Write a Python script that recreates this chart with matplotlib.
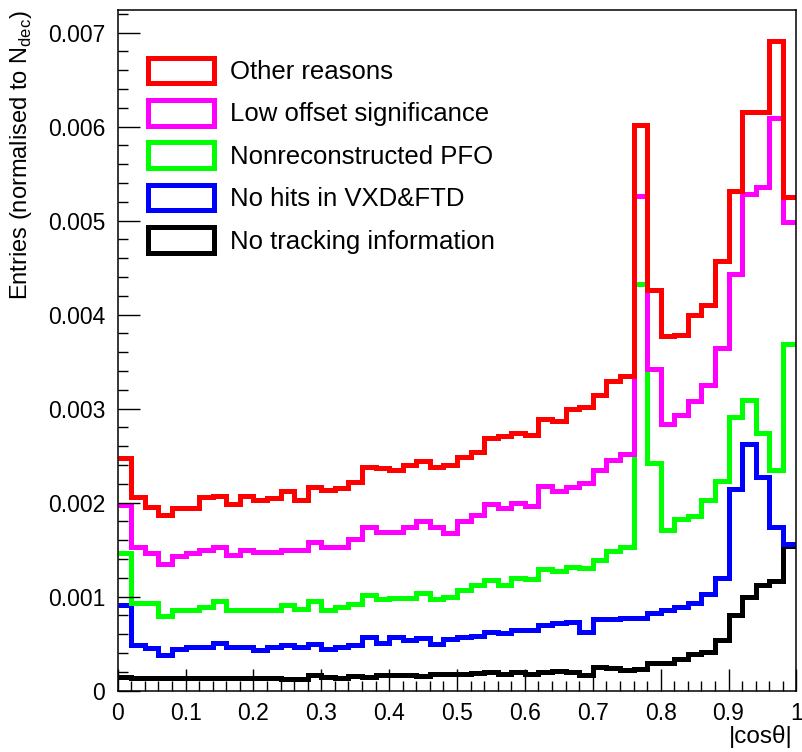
import numpy as np
import matplotlib
matplotlib.use('Agg')
import matplotlib.pyplot as plt
from matplotlib.patches import Rectangle
from matplotlib.ticker import MultipleLocator

plt.rcParams['font.family'] = ['Liberation Sans', 'DejaVu Sans']
plt.rcParams['mathtext.fontset'] = 'custom'
plt.rcParams['mathtext.rm'] = 'Liberation Sans'

# 50 bins in |cos theta|, values in units of 1e-3
edges = np.linspace(0, 1, 51)

other_reasons = [2.47, 2.06, 1.95, 1.87, 1.94, 1.94, 2.06, 2.07, 1.99, 2.07,
                 2.03, 2.05, 2.12, 2.03, 2.17, 2.14, 2.16, 2.22, 2.38, 2.37,
                 2.35, 2.40, 2.44, 2.38, 2.40, 2.49, 2.54, 2.69, 2.71, 2.74,
                 2.72, 2.89, 2.87, 3.00, 3.02, 3.15, 3.29, 3.35, 6.02, 4.26,
                 3.77, 3.78, 4.00, 4.10, 4.57, 5.32, 6.15, 6.16, 6.91, 5.25]
low_offset = [1.98, 1.53, 1.46, 1.35, 1.43, 1.46, 1.50, 1.53, 1.44, 1.50,
              1.48, 1.48, 1.50, 1.50, 1.58, 1.53, 1.53, 1.61, 1.74, 1.69,
              1.69, 1.74, 1.81, 1.74, 1.68, 1.81, 1.87, 1.99, 1.94, 2.00,
              1.96, 2.18, 2.12, 2.17, 2.21, 2.35, 2.45, 2.52, 5.26, 3.42,
              2.84, 2.93, 3.08, 3.25, 3.64, 4.43, 5.28, 5.36, 6.09, 4.99]
nonreco_pfo = [1.46, 0.93, 0.93, 0.79, 0.86, 0.86, 0.89, 0.95, 0.86, 0.86,
               0.86, 0.86, 0.91, 0.87, 0.95, 0.86, 0.89, 0.92, 1.02, 0.98,
               0.99, 0.99, 1.04, 0.98, 1.00, 1.07, 1.12, 1.18, 1.12, 1.20,
               1.19, 1.29, 1.27, 1.32, 1.30, 1.39, 1.49, 1.53, 4.33, 2.42,
               1.71, 1.83, 1.86, 2.03, 2.23, 2.91, 3.09, 2.74, 2.35, 3.69]
no_hits = [0.91, 0.49, 0.45, 0.38, 0.44, 0.46, 0.46, 0.51, 0.46, 0.47,
           0.43, 0.46, 0.49, 0.47, 0.50, 0.44, 0.46, 0.49, 0.57, 0.51,
           0.57, 0.54, 0.56, 0.50, 0.55, 0.57, 0.58, 0.62, 0.61, 0.65,
           0.65, 0.70, 0.72, 0.73, 0.62, 0.76, 0.76, 0.77, 0.77, 0.83,
           0.86, 0.89, 0.93, 1.03, 1.20, 2.15, 2.62, 2.27, 1.74, 1.56]
no_tracking = [0.15, 0.13, 0.14, 0.13, 0.14, 0.14, 0.14, 0.13, 0.13, 0.14,
               0.14, 0.13, 0.12, 0.12, 0.17, 0.15, 0.14, 0.16, 0.15, 0.17,
               0.17, 0.17, 0.16, 0.18, 0.18, 0.18, 0.19, 0.20, 0.18, 0.20,
               0.18, 0.20, 0.21, 0.20, 0.17, 0.25, 0.24, 0.22, 0.23, 0.29,
               0.30, 0.34, 0.39, 0.41, 0.54, 0.81, 1.00, 1.12, 1.17, 1.54]

labels = ['Other reasons', 'Low offset significance', 'Nonreconstructed PFO',
          'No hits in VXD&FTD', 'No tracking information']
series = [other_reasons, low_offset, nonreco_pfo, no_hits, no_tracking]
colors = ['#ff0000', '#ff00ff', '#00ff00', '#0000ff', '#000000']

fig = plt.figure(figsize=(8.02, 7.52), dpi=100)
ax = fig.add_axes([0.1468, 0.0815, 0.8462, 0.9052])

# draw black first so red ends on top
for vals, col in list(zip(series, colors))[::-1]:
    ax.stairs(np.array(vals) * 1e-3, edges, color=col, lw=3.6, baseline=None)

ax.set_xlim(0, 1)
ax.set_ylim(0, 0.00724)
ax.xaxis.set_minor_locator(MultipleLocator(0.02))
ax.yaxis.set_minor_locator(MultipleLocator(0.0002))
ax.set_xticks(np.arange(0, 1.01, 0.1))
ax.set_xticklabels(['0', '0.1', '0.2', '0.3', '0.4', '0.5', '0.6', '0.7', '0.8', '0.9', '1'])
ax.set_yticks(np.arange(0, 0.0071, 0.001))
ax.set_yticklabels(['0', '0.001', '0.002', '0.003', '0.004', '0.005', '0.006', '0.007'])
ax.tick_params(which='major', direction='in', length=15.5, width=1.0, labelsize=16.5)
ax.tick_params(which='minor', direction='in', length=7.5, width=1.0)
ax.tick_params(axis='y', pad=9)
ax.tick_params(axis='x', pad=8)
for s in ax.spines.values():
    s.set_linewidth(1.1)

ax.set_xlabel('|cos\u03b8|', fontsize=17.5, ha='right')
ax.xaxis.set_label_coords(0.995, -0.05)
ax.set_ylabel(r'Entries (normalised to N$_{\rm dec}$)', fontsize=17, ha='right')
ax.yaxis.set_label_coords(-0.123, 1.0)

handles = [Rectangle((0, 0), 1, 1, facecolor='none', edgecolor=c, lw=3.6) for c in colors]
ax.legend(handles, labels, loc='upper left', bbox_to_anchor=(0.044, 0.93),
          frameon=False, fontsize=18.5, handlelength=2.6, handleheight=1.15,
          labelspacing=0.62, handletextpad=0.6, borderpad=0, borderaxespad=0)

fig.savefig('out.png', dpi=100)
